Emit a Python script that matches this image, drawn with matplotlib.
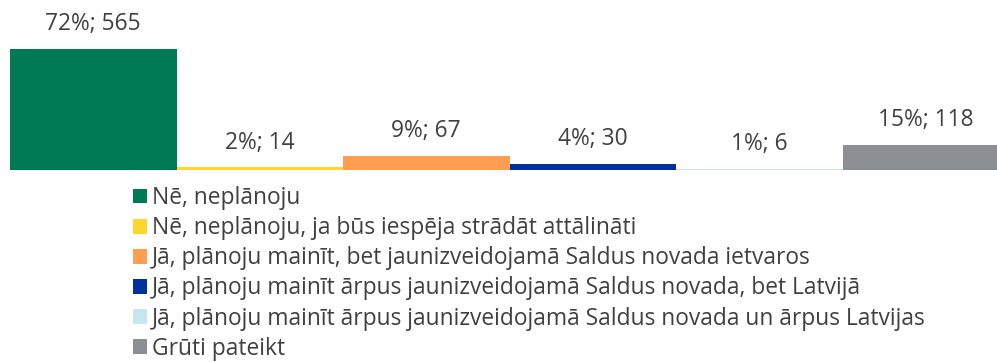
import matplotlib
matplotlib.use("Agg")
import matplotlib.pyplot as plt
from matplotlib.patches import Patch

# atbildes un skaiti
categories = [
    "Nē, neplānoju",
    "Nē, neplānoju, ja būs iespēja strādāt attālināti",
    "Jā, plānoju mainīt, bet jaunizveidojamā Saldus novada ietvaros",
    "Jā, plānoju mainīt ārpus jaunizveidojamā Saldus novada, bet Latvijā",
    "Jā, plānoju mainīt ārpus jaunizveidojamā Saldus novada un ārpus Latvijas",
    "Grūti pateikt",
]
counts = [565, 14, 67, 30, 6, 118]
percents = [72, 2, 9, 4, 1, 15]
colors = ["#007A53", "#FFD530", "#FF9E50", "#00309E", "#C8E6EF", "#8C8F93"]

plt.rcParams["font.family"] = ["Open Sans", "DejaVu Sans"]
text_color = "#404040"

fig = plt.figure(figsize=(9.97, 3.62), dpi=100)
# bāzes līnija 170 px no augšas, pēdējais stabiņš iziet ārpus attēla malas
ax = fig.add_axes([10 / 997, 192 / 362, 999 / 997, 150 / 362])

x = list(range(len(counts)))
bars = ax.bar(x, counts, width=1.0, color=colors)
ax.set_xlim(-0.5, len(counts) - 0.5)
ax.set_ylim(0, 700)
ax.axis("off")

for bar, p, c in zip(bars, percents, counts):
    ax.annotate(f"{p}%; {c}", (bar.get_x() + bar.get_width() / 2, bar.get_height()),
                xytext=(0, 9), textcoords="offset points",
                ha="center", va="bottom", fontsize=16.4, color=text_color)

handles = [Patch(facecolor=col, edgecolor="none") for col in colors]
leg = fig.legend(handles, categories, loc="upper left",
                 bbox_to_anchor=(133 / 997, 1 - 186 / 362),
                 frameon=False, fontsize=16.4, handlelength=0.62, handleheight=0.62,
                 handletextpad=0.2, labelspacing=0.27, borderpad=0, borderaxespad=0)
for t in leg.get_texts():
    t.set_color(text_color)

fig.savefig("out.png", dpi=100)
